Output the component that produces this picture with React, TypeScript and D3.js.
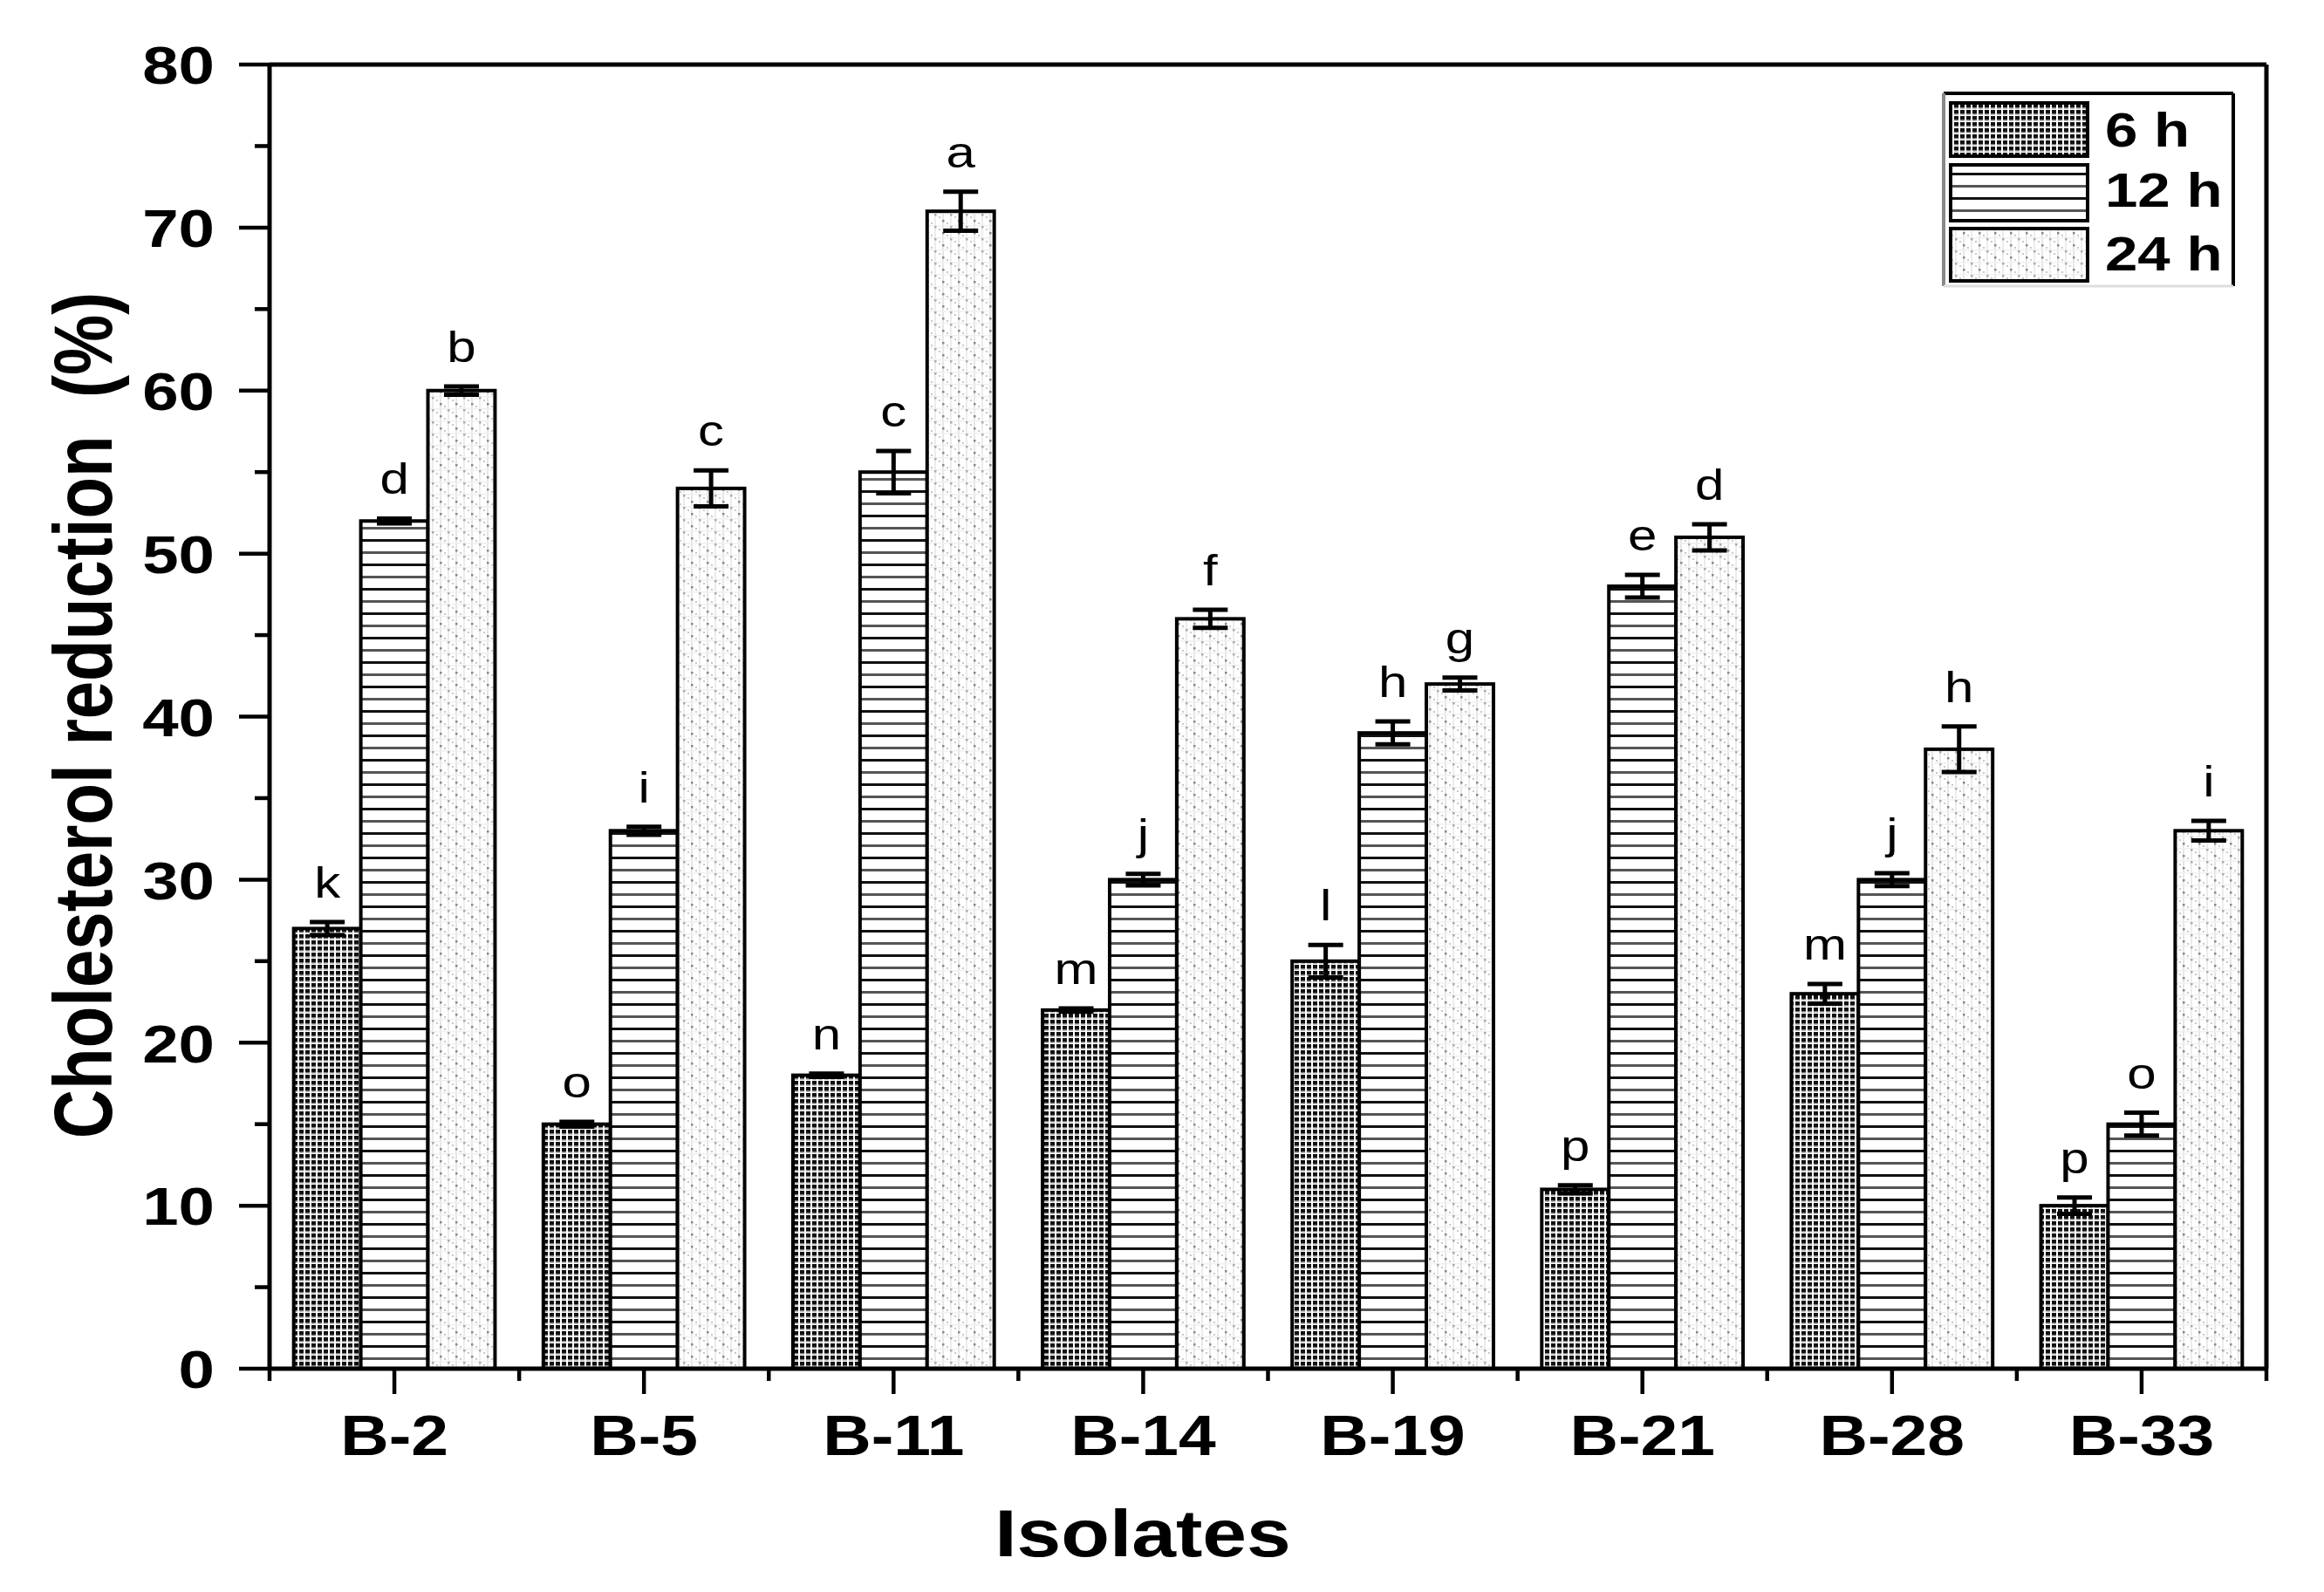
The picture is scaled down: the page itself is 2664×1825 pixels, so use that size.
import * as d3 from "d3";

const isolates = ["B-2", "B-5", "B-11", "B-14", "B-19", "B-21", "B-28", "B-33"];
const seriesNames = ["6 h", "12 h", "24 h"];

const values6h = [27, 15, 18, 22, 25, 11, 23, 10];
const values12h = [52, 33, 55, 30, 39, 48, 30, 15];
const values24h = [60, 54, 71, 46, 42, 51, 38, 33];

const err6h = [0.4, 0.15, 0.1, 0.1, 1.0, 0.25, 0.6, 0.5];
const err12h = [0.15, 0.25, 1.3, 0.35, 0.7, 0.7, 0.4, 0.7];
const err24h = [0.25, 1.1, 1.2, 0.55, 0.4, 0.8, 1.4, 0.6];

const letters6h = ["k", "o", "n", "m", "l", "p", "m", "p"];
const letters12h = ["d", "i", "c", "j", "h", "e", "j", "o"];
const letters24h = ["b", "c", "a", "f", "g", "d", "h", "i"];

const yTicks = [0, 10, 20, 30, 40, 50, 60, 70, 80];
const yMinorTicks = [5, 15, 25, 35, 45, 55, 65, 75];

const W = 2664;
const H = 1825;
const left = 309;
const right = 2598;
const top = 74;
const bottom = 1569;
const font = "'Liberation Sans', Arial, Helvetica, sans-serif";
const sx = 1.2; // the source figure is stretched sideways a bit

const values = [values6h, values12h, values24h];
const errs = [err6h, err12h, err24h];
const letters = [letters6h, letters12h, letters24h];
const fills = ["url(#pat6)", "url(#pat12)", "url(#pat24)"];

export default function App() {
  const x = d3.scaleBand<string>().domain(isolates).range([left, right]).padding(0);
  const xSub = d3
    .scaleBand<string>()
    .domain(seriesNames)
    .range([0, x.bandwidth()])
    .paddingInner(0)
    .paddingOuter(0.36);
  const y = d3.scaleLinear().domain([0, 80]).range([bottom, top]);

  const bars = isolates.flatMap((iso, i) =>
    seriesNames.map((s, k) => ({
      iso,
      s,
      k,
      v: values[k][i],
      e: errs[k][i],
      letter: letters[k][i],
      x0: (x(iso) ?? 0) + (xSub(s) ?? 0),
    }))
  );
  const bw = xSub.bandwidth();

  const boundaries = d3.range(isolates.length + 1).map((i) => left + i * x.step());

  const txt = (
    tx: number,
    ty: number,
    content: string,
    size: number,
    anchor: string,
    weight = "bold",
    rot = 0
  ) => (
    <text
      transform={`translate(${tx},${ty}) scale(${sx},1)${rot ? ` rotate(${rot})` : ""}`}
      fontFamily={font}
      fontSize={size}
      fontWeight={weight}
      textAnchor={anchor}
      fill="#000"
      style={{ whiteSpace: "pre" }}
    >
      {content}
    </text>
  );

  const legendY = [118, 189, 262];
  const legendH = [61, 64, 60];
  const legendBase = [168, 237, 310];

  return (
    <svg
      width={W}
      height={H}
      style={{ position: "absolute", left: 0, top: 0, background: "#fff" }}
    >
      <defs>
        <pattern id="pat6" width="7" height="7" patternUnits="userSpaceOnUse">
          <rect width="7" height="7" fill="#fff" />
          <rect x="0" y="0" width="5" height="4.5" fill="#111" />
          <rect x="0" y="4.5" width="5" height="1" fill="#777" />
        </pattern>
        <pattern id="pat12" width="10" height="28" patternUnits="userSpaceOnUse">
          <rect width="10" height="28" fill="#fff" />
          <rect x="0" y="2" width="10" height="3" fill="#111" />
          <rect x="0" y="16" width="10" height="3" fill="#555" />
        </pattern>
        <pattern id="pat24" width="18" height="14" patternUnits="userSpaceOnUse">
          <rect width="18" height="14" fill="#fff" />
          <rect x="0" y="0" width="2" height="14" fill="#e6e6e6" />
          <rect x="9" y="0" width="2" height="14" fill="#ececec" />
          <rect x="0" y="6" width="18" height="1.5" fill="#f0f0f0" />
          <rect x="0" y="0" width="2.5" height="2.5" fill="#888" />
          <rect x="9" y="7" width="2.5" height="2.5" fill="#aaa" />
          <rect x="5" y="3" width="2" height="2" fill="#c8c8c8" />
          <rect x="14" y="10" width="2" height="2" fill="#c8c8c8" />
        </pattern>
      </defs>

      <rect x={0} y={0} width={W} height={H} fill="#fff" />

      {/* bars */}
      {bars.map((b) => (
        <rect
          key={`bar-${b.iso}-${b.s}`}
          x={b.x0}
          y={y(b.v)}
          width={bw}
          height={y(0) - y(b.v)}
          fill={fills[b.k]}
          stroke="#000"
          strokeWidth={4}
        />
      ))}

      {/* error bars */}
      {bars.map((b) => {
        const cx = b.x0 + bw / 2;
        const y1 = y(b.v + b.e);
        const y2 = y(b.v - b.e);
        return (
          <g key={`err-${b.iso}-${b.s}`} stroke="#000" strokeWidth={5}>
            <line x1={cx} x2={cx} y1={y1} y2={y2} />
            <line x1={cx - 20} x2={cx + 20} y1={y1} y2={y1} />
            <line x1={cx - 20} x2={cx + 20} y1={y2} y2={y2} />
          </g>
        );
      })}

      {/* significance letters */}
      {bars.map((b) => (
        <g key={`let-${b.iso}-${b.s}`}>
          {txt(b.x0 + bw / 2, y(b.v + b.e) - 28, b.letter, 50, "middle", "normal")}
        </g>
      ))}

      {/* frame */}
      <g stroke="#000" strokeWidth={5} fill="none">
        <line x1={left} x2={right} y1={top} y2={top} />
        <line x1={right} x2={right} y1={top} y2={bottom} />
        <line x1={left} x2={left} y1={top} y2={bottom} />
        <line x1={left} x2={right} y1={bottom} y2={bottom} />
      </g>

      {/* y ticks */}
      <g stroke="#000" strokeWidth={4.5}>
        {yTicks.map((t) => (
          <line key={`yt-${t}`} x1={left - 35} x2={left} y1={y(t)} y2={y(t)} />
        ))}
        {yMinorTicks.map((t) => (
          <line key={`ym-${t}`} x1={left - 17} x2={left} y1={y(t)} y2={y(t)} />
        ))}
      </g>
      {yTicks.map((t) => (
        <g key={`yl-${t}`}>{txt(246, y(t) + 62 * 0.36, String(t), 62, "end")}</g>
      ))}

      {/* x ticks */}
      <g stroke="#000" strokeWidth={4.5}>
        {isolates.map((iso) => {
          const cx = (x(iso) ?? 0) + x.bandwidth() / 2;
          return <line key={`xt-${iso}`} x1={cx} x2={cx} y1={bottom} y2={bottom + 29} />;
        })}
        {boundaries.map((bx, i) => (
          <line key={`xm-${i}`} x1={bx} x2={bx} y1={bottom} y2={bottom + 14} />
        ))}
      </g>
      {isolates.map((iso) => (
        <g key={`xl-${iso}`}>
          {txt((x(iso) ?? 0) + x.bandwidth() / 2, 1668, iso, 64, "middle")}
        </g>
      ))}

      {/* axis titles */}
      {txt(1310, 1784, "Isolates", 76, "middle")}
      {txt(128, 820, "Cholesterol reduction  (%)", 78, "middle", "bold", -90)}

      {/* legend */}
      <g>
        <line x1={2228} x2={2560} y1={107} y2={107} stroke="#000" strokeWidth={4} />
        <line x1={2560} x2={2560} y1={107} y2={328} stroke="#000" strokeWidth={4} />
        <line x1={2228} x2={2228} y1={107} y2={328} stroke="#888" strokeWidth={4} />
        <line x1={2228} x2={2560} y1={328} y2={328} stroke="#ddd" strokeWidth={3} />
        {seriesNames.map((s, k) => (
          <g key={`leg-${s}`}>
            <rect
              x={2236}
              y={legendY[k]}
              width={157}
              height={legendH[k]}
              fill={fills[k]}
              stroke="#000"
              strokeWidth={4}
            />
            {txt(2413, legendBase[k], s, 56, "start")}
          </g>
        ))}
      </g>
    </svg>
  );
}
